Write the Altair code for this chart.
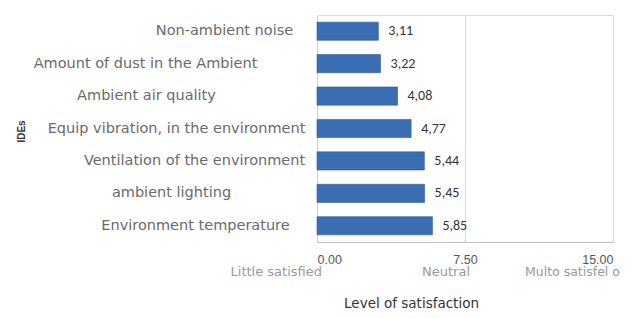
import altair as alt
import pandas as pd

categories = [
    "Non-ambient noise",
    "Amount of dust in the Ambient",
    "Ambient air quality",
    "Equip vibration, in the environment",
    "Ventilation of the environment",
    "ambient lighting",
    "Environment temperature",
]
values = [3.11, 3.22, 4.08, 4.77, 5.44, 5.45, 5.85]

tick_values = [0, 7.5, 15]
tick_names = ["Little satisfied", "Neutral", "Multo satisfel o"]

# distance (px) of each category label centre, left of the axis line
label_gap = [93, 172, 171, 141, 123, 146, 122]

df = pd.DataFrame({"cat": categories, "value": values})
ticks_df = pd.DataFrame({"v": tick_values, "name": tick_names})

W, H = 296, 227
LABEL_FONT = "DejaVu Sans"

pad_cond = {
    "condition": [
        {"test": f"datum.value === '{c}'", "value": g}
        for c, g in zip(categories, label_gap)
    ],
    "value": 10,
}

x_scale = alt.Scale(domain=[0, 15], nice=False)
y_enc = alt.Y(
    "cat:N",
    sort=categories,
    scale=alt.Scale(paddingInner=0.44, paddingOuter=0.22),
    axis=alt.Axis(
        title="IDEs",
        titleFont="Liberation Sans",
        titleFontSize=10,
        titleFontWeight="bold",
        titleColor="#333333",
        titleX=-291,
        titleY=116,
        labelFont=LABEL_FONT,
        labelFontSize=14.5,
        labelColor="#6a6a6a",
        labelAlign="center",
        labelPadding=pad_cond,
        labelLimit=400,
        ticks=False,
        domain=True,
        domainColor="#c8d4e6",
    ),
)

bars = alt.Chart(df).mark_bar(
    color="#3b6db3", stroke="#2f5a94", strokeWidth=0.6
).encode(
    x=alt.X(
        "value:Q",
        scale=x_scale,
        axis=alt.Axis(
            values=tick_values,
            format=".2f",
            title="Level of satisfaction",
            titleFont="DejaVu Sans",
            titleFontSize=13.5,
            titleFontWeight="normal",
            titleColor="#333333",
            titleX=94,
            titleY=65,
            titleAlign="center",
            titleBaseline="alphabetic",
            labelFont="Liberation Sans",
            labelFontSize=12.5,
            labelColor="#555555",
            labelPadding=11,
            ticks=False,
            domainColor="#bfbfbf",
            grid=True,
            gridColor="#d9d9d9",
        ),
    ),
    y=y_enc,
)

labels = alt.Chart(df).transform_calculate(
    lbl="replace(format(datum.value, '.2f'), '.', ',')"
).mark_text(
    align="left", dx=10, font="Carlito, Liberation Sans", fontSize=14, color="#333333"
).encode(
    x=alt.X("value:Q", scale=x_scale),
    y=alt.Y("cat:N", sort=categories),
    text="lbl:N",
)

subt_base = alt.Chart(ticks_df).encode(
    x=alt.X("v:Q", scale=x_scale),
    y=alt.value(H + 30),
    text="name:N",
)
subt_left = subt_base.transform_filter("datum.v < 15").mark_text(
    font="DejaVu Sans", fontSize=13, color="#9a9a9a", baseline="middle",
    align="right", dx=5,
)
subt_right = subt_base.transform_filter("datum.v >= 15").mark_text(
    font="DejaVu Sans", fontSize=12.5, color="#9a9a9a", baseline="middle",
    align="left", dx=-88,
)

chart = alt.layer(bars, labels, subt_left, subt_right).properties(
    width=W,
    height=H,
    autosize=alt.AutoSizeParams(type="none"),
    padding={"left": 309, "top": 7, "right": 22, "bottom": 68},
).configure_view(stroke="#e6e6e6").configure(background="white")

chart.save("out.html", embed_options={"renderer": "svg", "actions": False})
